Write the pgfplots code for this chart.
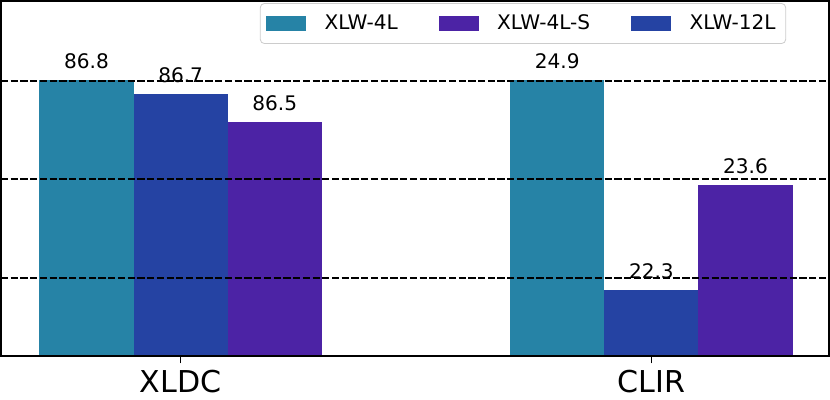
\documentclass[border=0pt]{standalone}
\usepackage{pgfplots}
\pgfplotsset{compat=1.18}
\usepackage{fontspec}
\setmainfont{DejaVu Sans}

\definecolor{cteal}{RGB}{38,131,166}
\definecolor{cblue}{RGB}{37,67,163}
\definecolor{cpurple}{RGB}{76,35,165}

\pgfplotsset{
  common/.style={
    scale only axis,
    width=412.5pt, height=177pt,
    xmin=-0.3817, xmax=1.3774,
    ybar=0pt, bar width=0.2,
    nodes near coords,
    /pgf/number format/assume math mode=true,
    /pgf/number format/.cd, fixed, fixed zerofill, precision=1, /pgfplots/.cd,
    every node near coord/.append style={font=\fontsize{10}{12}\selectfont, text=black, yshift=2.2pt},
  },
}

\begin{document}
\begin{tikzpicture}
  % CLIR bars, own scale, hidden axis
  \begin{axis}[common, hide axis,
      ymin=21.484, ymax=25.881]
    \addplot[fill=cteal, draw=none] coordinates {(1,24.9)};
    \addplot[fill=cblue, draw=none] coordinates {(1,22.3)};
    \addplot[fill=cpurple, draw=none] coordinates {(1,23.6)};
  \end{axis}
  % XLDC bars, grid, frame and legend
  \begin{axis}[common, axis on top,
      ymin=84.836, ymax=87.364,
      axis line style={line width=1pt},
      xtick={0,1}, xticklabels={XLDC,CLIR},
      xticklabel style={font=\fontsize{15}{18}\selectfont},
      ytick={85.393,86.098,86.795}, yticklabels={},
      yticklabel style={overlay},
      tick pos=left,
      tick align=outside, tick style={black, line width=0.7pt},
      major tick length=3.5pt,
      ytick style={overlay},
      ymajorgrids,
      major grid style={black, line width=0.9pt, dash pattern=on 3.6pt off 1.25pt},
      legend columns=3,
      legend style={at={(0.3127,0.994)}, anchor=north west,
        font=\fontsize{10}{12}\selectfont,
        draw=black!20, rounded corners=2pt, fill=white,
        inner xsep=3pt, inner ysep=3.5pt,
        /tikz/every odd column/.append style={column sep=7pt},
        /tikz/every even column/.append style={column sep=18.5pt}},
      legend image code/.code={\fill[#1, draw=none, sharp corners] (3.5pt,-3.5pt) rectangle (23.5pt,3.5pt);},
    ]
    \addlegendimage{fill=cteal, draw=none}
    \addlegendimage{fill=cpurple, draw=none}
    \addlegendimage{fill=cblue, draw=none}
    \addplot[fill=cteal, draw=none] coordinates {(0,86.8)};
    \addplot[fill=cblue, draw=none] coordinates {(0,86.7)};
    \addplot[fill=cpurple, draw=none] coordinates {(0,86.5)};
    \legend{XLW-4L, XLW-4L-S, XLW-12L}
  \end{axis}
\end{tikzpicture}
\end{document}
